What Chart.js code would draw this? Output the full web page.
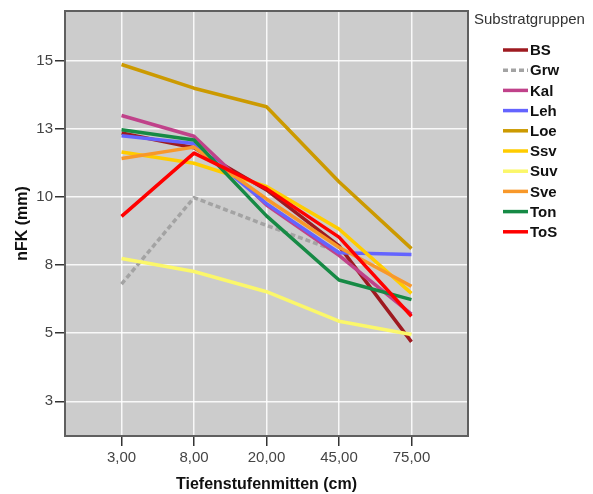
<!DOCTYPE html>
<html>
<head>
<meta charset="utf-8">
<script src="https://cdn.jsdelivr.net/npm/chart.js@4.4.1/dist/chart.umd.min.js"></script>
<style>
  html, body { margin: 0; padding: 0; background: #fff; }
</style>
</head>
<body>
<canvas id="myChart" width="593" height="494"></canvas>
<script>
// x categories (Tiefenstufenmitten) and y tick values
const depthLabels = ["3,00", "8,00", "20,00", "45,00", "75,00"];
const yTicks = [2.5, 5, 7.5, 10, 12.5, 15];

// nFK values per Substratgruppe
const BS  = [12.34, 11.80, 10.25, 8.20, 4.68];
const Grw = [6.80, 9.97, 8.95, 7.98, null];
const Kal = [12.98, 12.22, 9.70, 7.85, 5.70];
const Leh = [12.24, 11.95, 9.75, 7.95, 7.88];
const Loe = [14.85, 13.98, 13.30, 10.55, 8.10];
const Ssv = [11.64, 11.23, 10.38, 8.82, 6.46];
const Suv = [7.74, 7.26, 6.52, 5.44, 4.95];
const Sve = [11.40, 11.82, 9.92, 8.15, 6.72];
const Ton = [12.46, 12.08, 9.30, 6.95, 6.23];
const ToS = [9.28, 11.60, 10.30, 8.52, 5.62];

const groupNames = ["BS", "Grw", "Kal", "Leh", "Loe", "Ssv", "Suv", "Sve", "Ton", "ToS"];
const groupValues = [BS, Grw, Kal, Leh, Loe, Ssv, Suv, Sve, Ton, ToS];
const groupColors = ["#9e1a20", "#a3a3a3", "#c0428a", "#6464ff", "#cc9a00",
                     "#ffcc00", "#fbf76a", "#f8982a", "#168a45", "#ff0000"];

const FONT = "'Liberation Sans', Arial, sans-serif";

const datasets = groupNames.map((name, i) => ({
  label: name,
  data: groupValues[i].map((v, j) => ({ x: j, y: v })),
  borderColor: groupColors[i],
  backgroundColor: groupColors[i],
  borderWidth: 3.5,
  borderDash: name === "Grw" ? [5, 3] : [],
  borderJoinStyle: "round",
  pointRadius: 0,
  tension: 0,
  fill: false,
  spanGaps: false,
  order: groupNames.length - i, // later groups drawn on top
}));

// grey plot background, frame and the legend on the right
const plotFrame = {
  id: "plotFrame",
  beforeDraw(chart) {
    const { ctx, chartArea: a } = chart;
    ctx.save();
    ctx.fillStyle = "#cccccc";
    ctx.fillRect(a.left, a.top, a.right - a.left, a.bottom - a.top);
    ctx.restore();
  },
  afterDraw(chart) {
    const { ctx, chartArea: a } = chart;
    ctx.save();
    ctx.strokeStyle = "#5f5f5f";
    ctx.lineWidth = 2;
    ctx.strokeRect(a.left, a.top, a.right - a.left, a.bottom - a.top);

    // legend
    ctx.fillStyle = "#333";
    ctx.font = "15px " + FONT;
    ctx.textBaseline = "middle";
    ctx.fillText("Substratgruppen", 474, 20);
    chart.data.datasets.forEach((ds, i) => {
      const y = 50 + i * 20.2;
      ctx.beginPath();
      ctx.setLineDash(ds.borderDash);
      ctx.strokeStyle = ds.borderColor;
      ctx.lineWidth = 3.5;
      ctx.moveTo(503, y);
      ctx.lineTo(528, y);
      ctx.stroke();
      ctx.setLineDash([]);
      ctx.fillStyle = "#111";
      ctx.font = "bold 15px " + FONT;
      ctx.fillText(ds.label, 530, y + 1);
    });
    ctx.restore();
  },
};

const ctx = document.getElementById("myChart").getContext("2d");
const myChart = new Chart(ctx, {
  type: "line",
  data: { datasets: datasets },
  plugins: [plotFrame],
  options: {
    responsive: false,
    animation: false,
    devicePixelRatio: 1,
    layout: { padding: { left: 0, right: 125, top: 7, bottom: 0 } },
    plugins: {
      legend: { display: false },
      tooltip: { enabled: false },
    },
    scales: {
      x: {
        type: "linear",
        min: -0.78,
        max: 4.78,
        afterBuildTicks: (axis) => {
          axis.ticks = depthLabels.map((l, i) => ({ value: i }));
        },
        afterFit: (axis) => { axis.height = 58; },
        ticks: {
          callback: (v) => depthLabels[v],
          color: "#444",
          font: { family: FONT, size: 15 },
          padding: 3,
          maxRotation: 0,
        },
        grid: {
          color: "rgba(255,255,255,0.85)",
          lineWidth: 1.5,
          tickColor: "#333",
          tickLength: 10,
          tickWidth: 1.5,
        },
        border: { display: false },
        title: {
          display: true,
          text: "Tiefenstufenmitten (cm)",
          color: "#111",
          font: { family: FONT, size: 16, weight: "bold" },
          padding: { top: 0, bottom: 0 },
        },
      },
      y: {
        type: "linear",
        min: 1.23,
        max: 16.81,
        afterBuildTicks: (axis) => {
          axis.ticks = yTicks.map((v) => ({ value: v }));
        },
        afterFit: (axis) => { axis.width = 65; },
        ticks: {
          callback: (v) => Math.round(v),
          color: "#444",
          font: { family: FONT, size: 15 },
          padding: 2,
        },
        grid: {
          color: "rgba(255,255,255,0.85)",
          lineWidth: 1.5,
          tickColor: "#333",
          tickLength: 10,
          tickWidth: 1.5,
        },
        border: { display: false },
        title: {
          display: true,
          text: "nFK (mm)",
          color: "#111",
          font: { family: FONT, size: 16, weight: "bold" },
          padding: { top: 13, bottom: 0 },
        },
      },
    },
  },
});
</script>
</body>
</html>
